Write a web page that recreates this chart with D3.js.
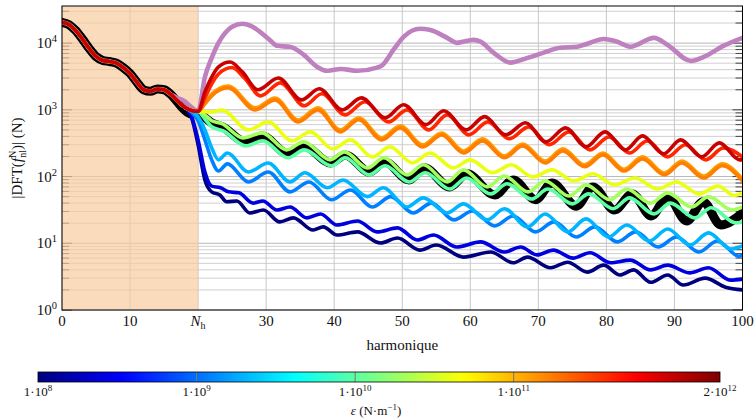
<!DOCTYPE html>
<html><head><meta charset="utf-8">
<script src="https://cdn.jsdelivr.net/npm/d3@7"></script>
<style>
body{margin:0;background:#fff}
</style>
</head><body>
<svg id="c" width="755" height="419" font-family="'Liberation Serif','Times New Roman','DejaVu Serif',serif"></svg>
<script>
// ---------------- data ----------------
const xTickValues = [0,10,20,30,40,50,60,70,80,90,100];
const xTickLabels = ["0","10","Nh","30","40","50","60","70","80","90","100"];
const yDecades = [1,10,100,1000,10000];
const yDecadeExp = ["0","1","2","3","4"];
const Nh = 20;
const cbTickValues = [1e8,1e9,1e10,1e11,2e12];
const cbTickMant = ["1","1","1","1","2"];
const cbTickExp = ["8","9","10","11","12"];

// shared part of all curves below N_h
const commonH = [0,1,2,3,4,5,6,7,8,9,10,11,12,13,14,15,16,17,18,19,20];
const commonV = [20500,19000,15500,11500,8300,6300,5500,5300,5000,4300,3500,2600,2000,1900,2050,2000,1700,1350,1100,980,950];

const blackTail = [[17,1300],[18,1000],[19,870],[20,880],[21,760],[22,640],[23.6,556],[27,331],[29.4,407],[33.2,219],[35.5,288],[39.5,160],[41.6,211],[45.2,117],[47.4,166],[51,89],[53.2,135],[57,70],[59.5,110],[63.6,53],[66.3,89],[69.6,45],[72,80],[75.6,36],[78,70],[81.2,31.6],[83.8,55],[86.6,25.7],[89,50],[91.8,21.6],[94.2,42],[96.8,18.8],[100,28.5]];
const purpleTail = [[17,1500],[18,1350],[19,1100],[20,950],[21,3100],[22,6000],[23,10100],[24,14300],[25,17600],[26.5,19500],[28,17600],[29,15000],[30.5,11200],[31.6,9100],[33.5,8800],[35.5,6700],[37.5,4400],[39,3850],[41,4100],[43.4,3850],[46.3,4300],[47,4600],[48.7,7900],[50.2,12400],[52.6,16400],[54,15800],[56.6,12000],[58,10100],[60.5,11200],[61.5,10500],[63.4,7200],[65.9,5100],[68.4,6000],[70.8,7200],[73.2,8500],[75.7,8800],[77.2,9800],[79.6,11500],[81.6,10500],[83.5,8800],[87,12000],[89,9400],[92.4,5400],[94.3,6200],[97.2,9100],[100,12000]];

const epsilons = [1e8,2.5e8,1.2e9,2e9,1e10,2e10,4e10,1.25e11,1.7e11,4e11,1e12];
const tailNavy = [[18,1110],[19,790],[20,299],[21,89],[22,59],[23.2,53],[24.2,42],[25.7,43],[27.6,28.5],[29.6,31.6],[32,20.9],[34,24],[36.9,15.8],[38.4,17.6],[40.4,13.3],[43.4,14.8],[46.8,10.1],[49.3,12],[52.6,7.9],[55,9.4],[59,6.2],[63,7.4],[66.3,5.1],[68.4,6.2],[71.8,4.3],[74.3,5.2],[77.2,3.7],[79.6,4.7],[82,3.35],[84,4.0],[86.5,2.6],[89,3.35],[91.3,2.37],[94.5,3.0],[97.5,2.2],[100,2.0]];
const tailBlue = [[18,1110],[19,810],[20,355],[21,117],[22,72],[23.3,68],[24.5,59],[26,57],[28.1,40],[29.5,43],[31.6,31.6],[33.5,35],[36,24],[38,27.5],[40.4,18.8],[43.4,21.6],[46.3,14.8],[49.3,17],[52.2,11.2],[54.6,13.3],[58,8.8],[61.5,10.5],[65,7.4],[67.4,8.8],[69.8,6.7],[72.2,7.9],[75.1,6.0],[77.6,7.2],[80.6,5.1],[83.5,5.6],[86.5,4.0],[89,4.7],[92.2,3.6],[95,4.3],[98.2,2.8],[100,2.9]];
const tailDodger = [[19,930],[20,685],[21,355],[22,178],[23,121],[24.3,155],[27.4,83],[30.3,117],[33.5,59],[36.3,83],[39.6,45],[42.4,63],[45.6,35],[48.3,50],[51.6,28.5],[54.3,40],[57.6,22.4],[60.3,30.5],[63.6,18.2],[66.3,25.7],[69.6,14.8],[72.3,20.9],[75.6,12.4],[78.3,17.6],[81.6,10.5],[84.3,14.8],[87.6,8.8],[90.3,12.4],[93.6,7.4],[96.3,10.8],[99.5,6.4],[100,6.7]];
const tailSky = [[19,970],[20,790],[21,500],[22,269],[23,178],[24.3,226],[27.4,117],[30.3,160],[33.5,83],[35.7,114],[39,68],[41.3,89],[44.9,50],[47.2,68],[50.7,35],[53.1,48],[56.6,28.5],[59,39],[62.5,22.4],[65,33],[68.4,17.6],[71,27.5],[74.3,14.8],[77,23.2],[80.3,12.4],[83,18.8],[86.3,10.8],[89,16.4],[92.3,9.4],[95,14.3],[98.3,8.2],[100,9.1]];
const tailSeaGreen = [[21,730],[22,556],[23.7,484],[27,288],[29.5,343],[33.2,191],[35.6,251],[39.6,145],[41.6,191],[45.1,106],[47.5,145],[51,83],[53.4,114],[57,65],[59.4,95],[63,55],[65.4,78],[69,46],[71.4,65],[75,39],[77.4,55],[81,33],[83.4,48],[87,27.5],[89.4,40],[93,24],[95.4,34],[99,20.2],[100,20.9]];
const tailLightGreen = [[21,840],[22,685],[23.5,620],[26.6,380],[29.4,452],[33,251],[35.5,331],[39.4,178],[41.5,234],[44.9,135],[47.3,191],[50.7,106],[53.1,150],[56.6,83],[59,126],[62.5,70],[65,102],[68.5,59],[71,86],[74.5,51],[77,75],[80.5,45],[83,65],[86.5,40],[89,57],[92.5,35],[95,50],[98.5,31.6],[100,35]];
const tailYellow = [[21,940],[22,930],[23.5,990],[27.4,500],[30.3,660],[33.8,343],[36.5,468],[39.8,260],[42.4,355],[45.6,197],[48.2,279],[51.5,160],[54.1,226],[57.5,135],[60,178],[63.3,114],[66,150],[69.2,99],[72,126],[75.2,86],[78,110],[81.2,75],[84.2,95],[87.5,65],[90.3,83],[93.6,55],[96.4,72],[98.8,52],[100,57]];
const tailOrangeLight = [[21,1280],[22,1720],[24.4,2280],[28.4,1070],[31.3,1500],[34.7,705],[37.6,1070],[40.9,500],[43.6,760],[47,380],[49.7,575],[53,298],[55.8,450],[59,242],[61.8,367],[65,204],[67.7,308],[71,171],[73.6,260],[76.8,150],[79.5,226],[82.6,129],[85.3,197],[88.5,113],[91.1,171],[94.3,102],[97,155],[100,92]];
const tailOrange = [[21,1230],[22,1620],[24.4,2140],[28.4,1000],[31.3,1410],[34.7,660],[37.6,1000],[40.9,468],[43.6,710],[47,355],[49.7,537],[53,279],[55.8,422],[59,226],[61.8,343],[65,191],[67.7,288],[71,160],[73.6,243],[76.8,140],[79.5,211],[82.6,121],[85.3,184],[88.5,106],[91.1,160],[94.3,95],[97,145],[100,86]];
const tailRed = [[21,1510],[22,2450],[23,3450],[25,4300],[26.8,3000],[29.2,1620],[32.1,2540],[35.6,1150],[38.2,1740],[41.6,840],[44.5,1320],[48,660],[50.7,1000],[53.9,500],[56.6,840],[59.8,422],[62.6,660],[65.7,368],[68.6,556],[71.6,299],[74.5,468],[77.6,251],[80.4,394],[83.4,226],[86,343],[89,197],[91.6,299],[94.6,178],[97.2,269],[100,197]];
const tailDarkRed = [[21,1860],[22,3100],[23,4400],[24.7,5200],[26.5,3700],[28.8,2000],[31.8,3000],[35.2,1410],[37.8,2070],[41.2,1000],[44,1510],[47.5,760],[50.2,1190],[53.5,600],[56.1,970],[59.4,500],[62.1,790],[65.2,422],[68.1,640],[71.1,331],[74,537],[77,279],[79.8,468],[82.8,251],[85.3,407],[88.4,219],[90.9,355],[94,197],[96.6,320],[99.6,178],[100,178]];
const tails = [tailNavy,tailBlue,tailDodger,tailSky,tailSeaGreen,tailLightGreen,tailYellow,tailOrangeLight,tailOrange,tailRed,tailDarkRed];

// ---------------- drawing ----------------
const svg = d3.select("#c");
const x = d3.scaleLinear().domain([0,100]).range([62,742.5]);
const y = d3.scaleLog().domain([1,36000]).range([310,6]);
const cbX = d3.scaleLog().domain([1e8,2e12]).range([38,720]);
const jet = d3.scaleLinear().domain([0,0.125,0.375,0.625,0.875,1])
  .range(["#00007f","#0000ff","#00ffff","#ffff00","#ff0000","#7f0000"]).clamp(true);
const tOf = e => (Math.log10(e)-8)/Math.log10(2e12/1e8);

function fullSeries(tail){
  const start = tail[0][0];
  const pre = commonH.map((h,i)=>[h,commonV[i]]).filter(d=>d[0]<start);
  return pre.concat(tail);
}

const [x0,x1] = x.range(), [y0,y1] = y.range();
const defs = svg.append("defs");
defs.append("clipPath").attr("id","plot")
  .append("rect").attr("x",x0).attr("y",y1).attr("width",x1-x0).attr("height",y0-y1);

const grid = svg.append("g");
const minorVals = [];
for (let k=0;k<=4;k++) for (let m=1;m<=9;m++){ const v=m*Math.pow(10,k); if (v<=36000) minorVals.push(v); }
grid.selectAll("line.h").data(minorVals).enter().append("line")
  .attr("x1",x0).attr("x2",x1).attr("y1",d=>y(d)).attr("y2",d=>y(d))
  .attr("stroke",d=>yDecades.includes(d)?"#b8b8b8":"#d0d0d0").attr("stroke-width",1);
grid.selectAll("line.v").data(xTickValues).enter().append("line")
  .attr("x1",d=>x(d)).attr("x2",d=>x(d)).attr("y1",y1).attr("y2",y0)
  .attr("stroke","#c8c8c8").attr("stroke-width",1);
grid.selectAll("line.t").data(minorVals).enter().append("line")
  .attr("x1",x0).attr("x2",d=>x0+(yDecades.includes(d)?10:7)).attr("y1",d=>y(d)).attr("y2",d=>y(d))
  .attr("stroke","#444").attr("stroke-width",1);
grid.selectAll("line.tr").data(minorVals).enter().append("line")
  .attr("x1",x1).attr("x2",d=>x1-(yDecades.includes(d)?10:7)).attr("y1",d=>y(d)).attr("y2",d=>y(d))
  .attr("stroke","#444").attr("stroke-width",1);

svg.append("rect").attr("x",x(0)).attr("y",y1).attr("width",x(Nh)-x(0)).attr("height",y0-y1)
  .attr("fill","#f8cc9c").attr("fill-opacity",0.68);

const line = d3.line().x(d=>x(d[0])).y(d=>y(d[1])).curve(d3.curveMonotoneX);
const plot = svg.append("g").attr("clip-path","url(#plot)")
  .attr("fill","none").attr("stroke-linecap","round").attr("stroke-linejoin","round");
plot.append("path").attr("d",line(fullSeries(blackTail))).attr("stroke","#000").attr("stroke-width",9);
plot.append("path").attr("d",line(fullSeries(purpleTail))).attr("stroke","#bf80c0").attr("stroke-width",4.6);
tails.forEach((t,i)=>{
  plot.append("path").attr("d",line(fullSeries(t))).attr("stroke",jet(tOf(epsilons[i]))).attr("stroke-width",3.6);
});

svg.append("rect").attr("x",x0).attr("y",y1).attr("width",x1-x0).attr("height",y0-y1)
  .attr("fill","none").attr("stroke","#000").attr("stroke-width",1);

// x tick labels
const xl = svg.append("g").attr("font-size",15).attr("text-anchor","middle").attr("fill","#111");
xTickValues.forEach((v,i)=>{
  const t = xl.append("text").attr("x",x(v)).attr("y",326);
  if (xTickLabels[i]==="Nh"){
    t.append("tspan").attr("font-style","italic").text("N");
    t.append("tspan").attr("font-size",10).attr("dy",3).text("h");
  } else t.text(xTickLabels[i]);
});
// y tick labels
const yl = svg.append("g").attr("font-size",15).attr("text-anchor","end").attr("fill","#111");
yDecades.forEach((v,i)=>{
  const t = yl.append("text").attr("x",57).attr("y",y(v)+5);
  t.append("tspan").text("10");
  t.append("tspan").attr("font-size",10.5).attr("dy",-6).text(yDecadeExp[i]);
});
// axis labels
svg.append("text").attr("x",(x0+x1)/2).attr("y",350).attr("text-anchor","middle").attr("font-size",15).attr("fill","#111").text("harmonique");
const ylab = svg.append("text").attr("transform","translate(22,158) rotate(-90)").attr("text-anchor","middle").attr("font-size",15).attr("fill","#111");
ylab.append("tspan").text("|DFT(");
ylab.append("tspan").attr("font-style","italic").text("f");
ylab.append("tspan").attr("font-size",10).attr("dy",-6).text("N");
ylab.append("tspan").attr("font-size",10).attr("dx",-7).attr("dy",10).text("nl");
ylab.append("tspan").attr("dy",-4).text(")| (N)");

// colorbar
const grad = defs.append("linearGradient").attr("id","jet").attr("x1","0%").attr("x2","100%");
d3.range(0,1.0001,0.02).forEach(t=>grad.append("stop").attr("offset",(t*100)+"%").attr("stop-color",jet(t)));
const cbY = 372, cbH = 10;
svg.append("rect").attr("x",cbX(1e8)).attr("y",cbY).attr("width",cbX(2e12)-cbX(1e8)).attr("height",cbH).attr("fill","url(#jet)");
svg.selectAll("line.cbt").data(cbTickValues.slice(1,4)).enter().append("line")
  .attr("x1",d=>cbX(d)).attr("x2",d=>cbX(d)).attr("y1",cbY).attr("y2",cbY+cbH).attr("stroke","#777").attr("stroke-width",1);
svg.append("rect").attr("x",cbX(1e8)).attr("y",cbY).attr("width",cbX(2e12)-cbX(1e8)).attr("height",cbH)
  .attr("fill","none").attr("stroke","#000").attr("stroke-width",0.8);
const cl = svg.append("g").attr("font-size",13).attr("text-anchor","middle").attr("fill","#111");
cbTickValues.forEach((v,i)=>{
  const t = cl.append("text").attr("x",cbX(v)).attr("y",396);
  t.append("tspan").text(cbTickMant[i]+"\u00b710");
  t.append("tspan").attr("font-size",9).attr("dy",-5).text(cbTickExp[i]);
});
const el = svg.append("text").attr("x",376).attr("y",415).attr("text-anchor","middle").attr("font-size",13).attr("fill","#111");
el.append("tspan").attr("font-style","italic").text("\u03b5");
el.append("tspan").text(" (N\u00b7m");
el.append("tspan").attr("font-size",9).attr("dy",-5).text("\u22121");
el.append("tspan").attr("dy",5).text(")");
</script>
</body></html>
